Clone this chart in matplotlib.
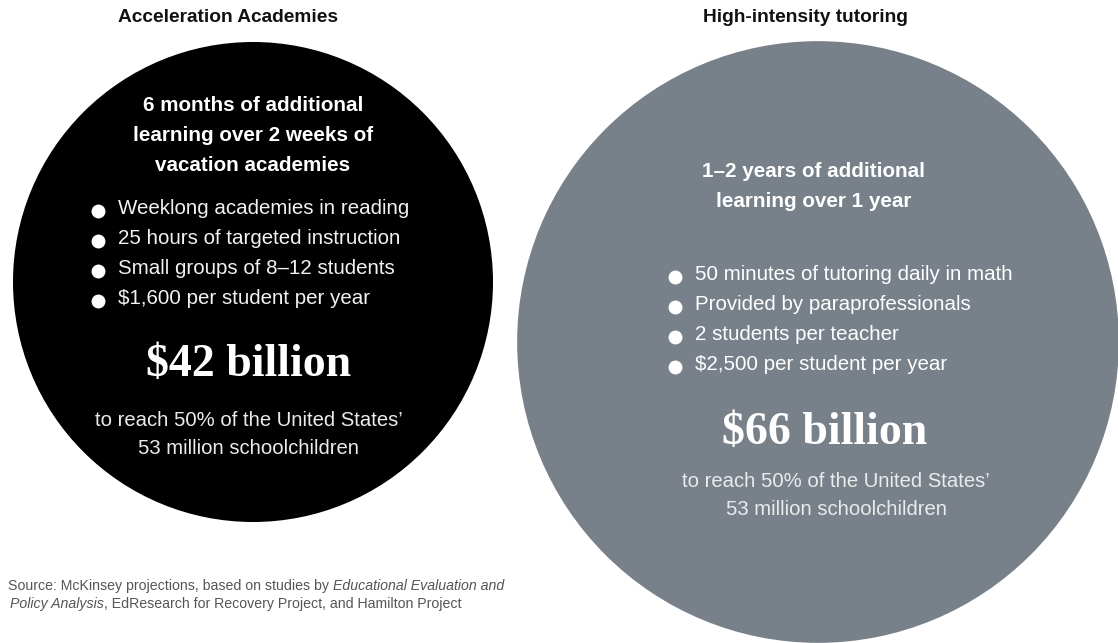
import numpy as np
import matplotlib
matplotlib.use("Agg")
import matplotlib.pyplot as plt
from matplotlib.patches import Circle

# ---- data -------------------------------------------------------------
programs = ["Acceleration Academies", "High-intensity tutoring"]
headlines = [
    "6 months of additional\nlearning over 2 weeks of\nvacation academies",
    "1\u20132 years of additional\nlearning over 1 year",
]
bullets = [
    ["Weeklong academies in reading",
     "25 hours of targeted instruction",
     "Small groups of 8\u201312 students",
     "$1,600 per student per year"],
    ["50 minutes of tutoring daily in math",
     "Provided by paraprofessionals",
     "2 students per teacher",
     "$2,500 per student per year"],
]
cost_bn = [42, 66]          # circle area is proportional to cost
reach_note = "to reach 50% of the United States\u2019\n53 million schoolchildren"
circle_colors = ["#000000", "#78818a"]

W, H = 1118, 643
SANS = "Liberation Sans"
SERIF = "Liberation Serif"

fig = plt.figure(figsize=(W / 100, H / 100), dpi=100)
ax = fig.add_axes([0, 0, 1, 1])
ax.set_xlim(0, W)
ax.set_ylim(H, 0)
ax.set_aspect("equal")
ax.axis("off")

# layout (pixels)
r_scale = 240 / np.sqrt(cost_bn[0])
centers = [(253, 282), (818, 342)]
title_x = [228, 805]
head_x = [253, 814]
head_y = [96, 162]
bullet_x = [98, 675]
bullet_y0 = [209, 275]
cost_x = [249, 825]
cost_y = [365, 433]
note_x = [249, 836]
note_y = [411, 472]
bullet_col = ["#f2f2f2", "#ffffff"]

for i, name in enumerate(programs):
    cx, cy = centers[i]
    r = r_scale * np.sqrt(cost_bn[i])
    ax.add_patch(Circle((cx, cy), r, color=circle_colors[i], lw=0, zorder=1))

    ax.text(title_x[i], 18, name, ha="center", va="center", fontsize=13.8,
            fontweight="bold", family=SANS, color="#111111")

    ax.text(head_x[i], head_y[i], headlines[i], ha="center", va="top",
            fontsize=14.9, fontweight="bold", family=SANS, color="white",
            linespacing=1.74)

    for k, b in enumerate(bullets[i]):
        y = bullet_y0[i] + k * 30
        ax.plot(bullet_x[i], y + 2, "o", ms=9, color="white", zorder=3)
        ax.text(bullet_x[i] + 20, y, b, ha="left", va="center", fontsize=14.8,
                family=SANS, color=bullet_col[i])

    ax.text(cost_x[i], cost_y[i], f"${cost_bn[i]} billion", ha="center",
            va="center", fontsize=33, fontweight="bold", family=SERIF,
            color="white")
    ax.text(note_x[i], note_y[i], reach_note, ha="center", va="top",
            fontsize=14.6, family=SANS, color="#ebebeb", linespacing=1.63)

# source note with italic publication name
src_color = "#555555"
t1 = ax.text(8, 586, "Source: McKinsey projections, based on studies by ",
             ha="left", va="center", fontsize=10.2, family=SANS, color=src_color)
ax.annotate("Educational Evaluation and", xy=(1, 0), xycoords=t1,
            ha="left", va="bottom", fontsize=10.2, family=SANS,
            style="italic", color=src_color)
t3 = ax.text(10, 604, "Policy Analysis", ha="left", va="center", fontsize=10.2,
             family=SANS, style="italic", color=src_color)
ax.annotate(", EdResearch for Recovery Project, and Hamilton Project",
            xy=(1, 0), xycoords=t3, ha="left", va="bottom", fontsize=10.2,
            family=SANS, color=src_color)

fig.savefig("out.png", dpi=100)
